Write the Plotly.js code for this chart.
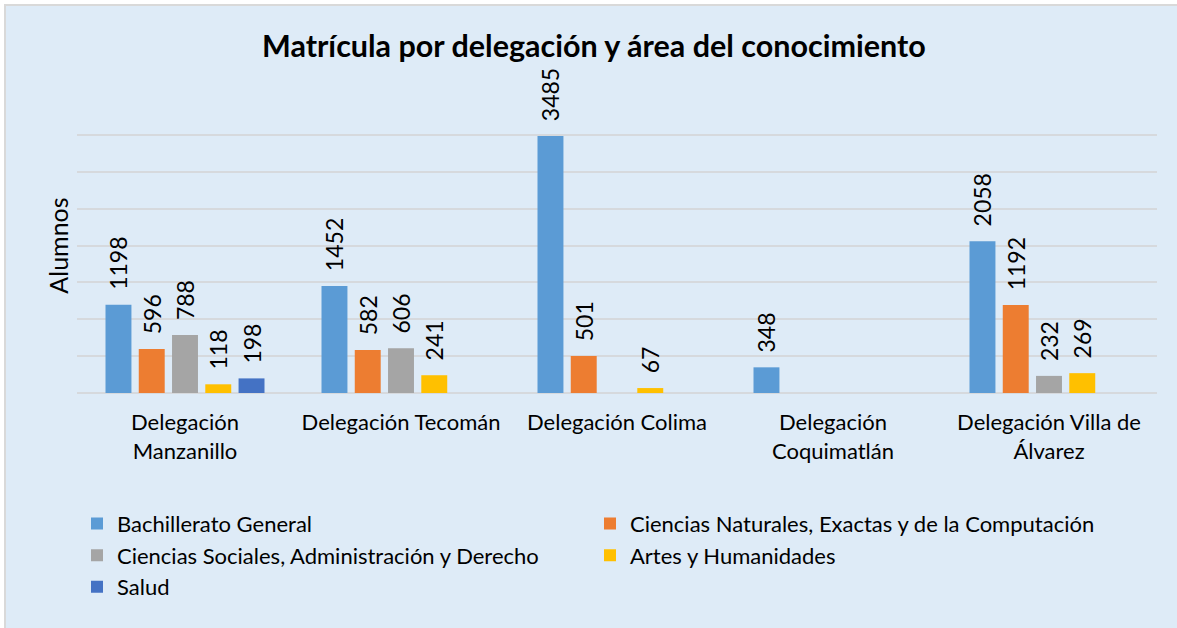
<!DOCTYPE html>
<html>
<head>
<meta charset="utf-8">
<script src="https://cdn.plot.ly/plotly-3.0.1.min.js"></script>
<style>
  html, body { margin: 0; padding: 0; background: #ffffff; width: 1177px; height: 628px; overflow: hidden; }
  #frame { position: absolute; left: 4px; top: 4px; width: 1173px; height: 624px;
           border-left: 2px solid #D9D9D9; border-top: 2px solid #D9D9D9; box-sizing: border-box; background: #DEEBF7; }
  #chart { width: 1171px; height: 622px; }
</style>
</head>
<body>
<div id="frame"><div id="chart"></div></div>
<script>
const categories = [
  "Delegación<br>Manzanillo",
  "Delegación Tecomán",
  "Delegación Colima",
  "Delegación<br>Coquimatlán",
  "Delegación Villa de<br>Álvarez"
];
const seriesNames = [
  "Bachillerato General",
  "Ciencias Naturales, Exactas y de la Computación",
  "Ciencias Sociales, Administración y Derecho",
  "Artes y Humanidades",
  "Salud"
];
const bachillerato = [1198, 1452, 3485, 348, 2058];
const cienciasNaturales = [596, 582, 501, null, 1192];
const cienciasSociales = [788, 606, null, null, 232];
const artes = [118, 241, 67, null, 269];
const salud = [198, null, null, null, null];
const colors = ["#5B9BD5", "#ED7D31", "#A5A5A5", "#FFC000", "#4472C4"];

const FONT = "Lato, 'Open Sans', sans-serif";
const allValues = [bachillerato, cienciasNaturales, cienciasSociales, artes, salud];

const traces = allValues.map((vals, i) => ({
  type: "bar",
  name: seriesNames[i],
  x: categories,
  y: vals,
  marker: { color: colors[i], line: { width: 0 } },
  texttemplate: "\u00a0\u00a0%{y}",
  textposition: "outside",
  textangle: -90,
  constraintext: "none",
  cliponaxis: false,
  textfont: { family: FONT, size: 23, color: "#000000" },
  hoverinfo: "skip"
}));

const layout = {
  width: 1171,
  height: 622,
  paper_bgcolor: "#DEEBF7",
  plot_bgcolor: "#DEEBF7",
  margin: { l: 71, r: 20, t: 92, b: 235 },
  barmode: "group",
  bargap: 0.23,
  bargroupgap: 0.22,
  font: { family: FONT, color: "#000000" },
  title: {
    text: "<b>Matrícula por delegación y área del conocimiento</b>",
    font: { family: FONT, size: 30.5, color: "#000000" },
    x: 0.502, xanchor: "center",
    y: 0.935, yanchor: "middle"
  },
  xaxis: {
    type: "category",
    showgrid: false,
    showline: false,
    ticks: "",
    ticklabelstandoff: 14,
    tickfont: { family: FONT, size: 22, color: "#000000" },
    automargin: false
  },
  yaxis: {
    range: [0, 4000],
    dtick: 500,
    showticklabels: false,
    gridcolor: "#D6D9DD",
    gridwidth: 2,
    zeroline: true,
    zerolinecolor: "#D6D9DD",
    zerolinewidth: 2,
    ticks: "",
    automargin: false,
    title: { text: "Alumnos", font: { family: FONT, size: 25, color: "#000000" }, standoff: 0 }
  },
  showlegend: true,
  legend: {
    orientation: "h",
    x: 0.0, xanchor: "left",
    y: -0.372, yanchor: "top",
    entrywidth: 468,
    entrywidthmode: "pixels",
    font: { family: FONT, size: 22, color: "#000000" },
    bgcolor: "rgba(0,0,0,0)",
    traceorder: "normal"
  }
};

Plotly.newPlot("chart", traces, layout, { displayModeBar: false, staticPlot: true });
</script>
</body>
</html>
